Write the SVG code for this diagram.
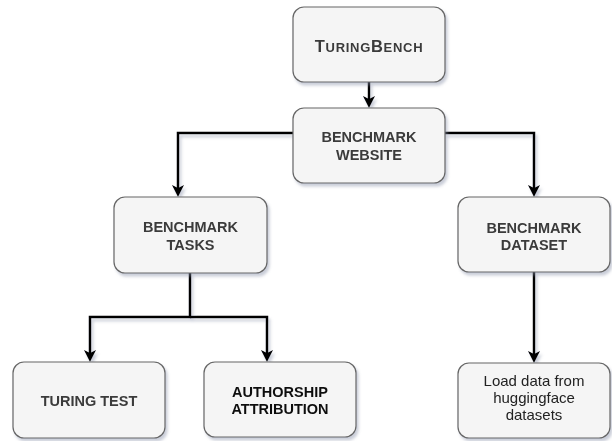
<svg xmlns="http://www.w3.org/2000/svg" width="612" height="441" viewBox="0 0 612 441">
<style>
.box{fill:#f5f5f5;stroke:#666;stroke-width:1.2}
.t{font-family:"Liberation Sans",Arial,sans-serif;font-size:14.5px;font-weight:bold;fill:#3a3a3a;text-anchor:middle}
.dark{fill:#111}
.reg{font-weight:normal;font-size:15px;fill:#222}
.edge{fill:none;stroke:#000;stroke-width:2.5}
</style>
<defs>
<filter id="sh" x="-10%" y="-10%" width="130%" height="130%">
<feDropShadow dx="2" dy="3" stdDeviation="1.5" flood-color="#8890a8" flood-opacity="0.45"/>
</filter>
<marker id="arr" markerUnits="userSpaceOnUse" markerWidth="14" markerHeight="14" viewBox="0 -7 14 14" refX="3" refY="0" orient="auto">
<path d="M0,-6 L12,0 L0,6 L3,0 z" fill="#000"/>
</marker>
</defs>
<g id="connectors" filter="url(#sh)">
<path class="edge" d="M369,82 V99" marker-end="url(#arr)"/>
<path class="edge" d="M293,133 H178 V188" marker-end="url(#arr)"/>
<path class="edge" d="M445,133 H534 V188" marker-end="url(#arr)"/>
<path class="edge" d="M190,273 V317 H90 V353" marker-end="url(#arr)"/>
<path class="edge" d="M190,317 H267 V353" marker-end="url(#arr)"/>
<path class="edge" d="M534,272 V354" marker-end="url(#arr)"/>
</g>
<g id="turingbench" filter="url(#sh)">
<rect class="box" x="293" y="7" width="152" height="75" rx="11"/>
<text class="t" x="369" y="52" style="font-size:13px" letter-spacing="0.7"><tspan style="font-size:16.5px">T</tspan>URING<tspan style="font-size:16.5px">B</tspan>ENCH</text>
</g>
<g id="website" filter="url(#sh)">
<rect class="box" x="293" y="108" width="152" height="75" rx="11"/>
<text class="t" x="369" y="142">BENCHMARK</text>
<text class="t" x="369" y="160">WEBSITE</text>
</g>
<g id="tasks" filter="url(#sh)">
<rect class="box" x="114" y="197" width="153" height="76" rx="11"/>
<text class="t" x="190.5" y="232">BENCHMARK</text>
<text class="t" x="190.5" y="249.5">TASKS</text>
</g>
<g id="dataset" filter="url(#sh)">
<rect class="box" x="458" y="197" width="152" height="75" rx="11"/>
<text class="t" x="534" y="233">BENCHMARK</text>
<text class="t" x="534" y="250">DATASET</text>
</g>
<g id="turingtest" filter="url(#sh)">
<rect class="box" x="13" y="362" width="152" height="76" rx="11"/>
<text class="t" x="89" y="406">TURING TEST</text>
</g>
<g id="authorship" filter="url(#sh)">
<rect class="box" x="204" y="362" width="152" height="75" rx="11"/>
<text class="t dark" x="280" y="397">AUTHORSHIP</text>
<text class="t dark" x="280" y="414">ATTRIBUTION</text>
</g>
<g id="loaddata" filter="url(#sh)">
<rect class="box" x="458" y="363" width="152" height="75" rx="11"/>
<text class="t reg" x="534" y="386">Load data from</text>
<text class="t reg" x="534" y="403">huggingface</text>
<text class="t reg" x="534" y="420">datasets</text>
</g>
</svg>
